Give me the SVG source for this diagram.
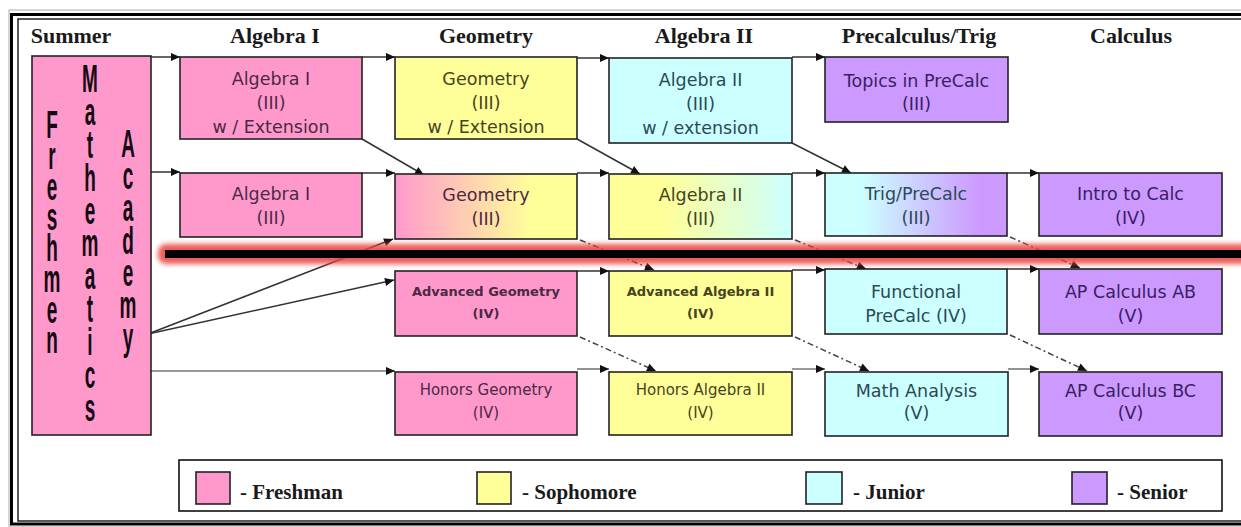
<svg xmlns="http://www.w3.org/2000/svg" width="1241" height="527" viewBox="0 0 1241 527">
<style>
.hdr{font-family:"Liberation Serif",serif;font-weight:bold;font-size:22px;fill:#1a1a1a;text-anchor:middle}
.leg{font-family:"Liberation Serif",serif;font-weight:bold;font-size:21px;fill:#1a1a1a}
.bx{stroke:#222;stroke-width:1.6}
.t{font-family:"DejaVu Sans",sans-serif;font-size:17.5px;text-anchor:middle}
.ts{font-family:"DejaVu Sans",sans-serif;font-size:15px;text-anchor:middle}
.tb{font-family:"DejaVu Sans",sans-serif;font-size:13px;font-weight:bold;text-anchor:middle}
.pk{fill:#ff99cc}.yl{fill:#ffff99}.cy{fill:#ccffff}.pu{fill:#cc99ff}
.tp{fill:#4a2a45}.ty{fill:#45441f}.tc{fill:#2a4a55}.tu{fill:#3a2060}
.c{fill:none;stroke:#333;stroke-width:1.5;marker-end:url(#ah)}
.cg{fill:none;stroke:#777;stroke-width:1.6;marker-end:url(#ah)}
.d{fill:none;stroke:#444;stroke-width:1.5;stroke-dasharray:6 3 2 3;marker-end:url(#ah)}
.fm{font-family:"Liberation Sans",sans-serif;font-weight:bold;font-size:38px;fill:#160a12;writing-mode:vertical-rl;text-orientation:upright}
</style>
<defs>
<marker id="ah" viewBox="0 0 10 10" refX="10" refY="5" markerWidth="11" markerHeight="9" markerUnits="userSpaceOnUse" orient="auto"><path d="M0,0.5 L10,5 L0,9.5 z" fill="#111"/></marker>
<linearGradient id="gPY" x1="0" y1="0" x2="1" y2="0"><stop offset="0" stop-color="#ff99cc"/><stop offset="0.75" stop-color="#ffff99"/><stop offset="1" stop-color="#ffff99"/></linearGradient>
<linearGradient id="gYC" x1="0" y1="0" x2="1" y2="0"><stop offset="0" stop-color="#ffff99"/><stop offset="0.3" stop-color="#ffff99"/><stop offset="1" stop-color="#ccffff"/></linearGradient>
<linearGradient id="gCP" x1="0" y1="0" x2="1" y2="0"><stop offset="0" stop-color="#ccffff"/><stop offset="0.2" stop-color="#ccffff"/><stop offset="0.85" stop-color="#cc99ff"/><stop offset="1" stop-color="#cc99ff"/></linearGradient>
<filter id="blur" x="-0.05" y="-1" width="1.1" height="3"><feGaussianBlur stdDeviation="2.5"/></filter>
</defs>
<rect width="1241" height="527" fill="#fff"/>
<g id="frame" fill="none">
<rect x="9" y="10" width="1260" height="517" stroke="#aaa" stroke-width="1"/>
<rect x="11.5" y="14.5" width="1260" height="509.5" stroke="#000" stroke-width="3"/>
<rect x="18" y="19" width="1260" height="502" stroke="#111" stroke-width="1.4"/>
</g>
<g id="headers">
<text class="hdr" x="71" y="43">Summer</text>
<text class="hdr" x="275" y="43">Algebra I</text>
<text class="hdr" x="486" y="43">Geometry</text>
<text class="hdr" x="704" y="43">Algebra II</text>
<text class="hdr" x="919" y="43">Precalculus/Trig</text>
<text class="hdr" x="1131" y="43">Calculus</text>
</g>
<g id="connectors">
<path class="c" d="M151,57 H180"/>
<path class="c" d="M362,57 H395"/>
<path class="c" d="M577,58 H609"/>
<path class="c" d="M792,57 H825"/>
<path class="c" d="M148,172 H180"/>
<path class="c" d="M362,173 H395"/>
<path class="c" d="M577,173 H609"/>
<path class="c" d="M792,173 H825"/>
<path class="c" d="M1007,173 H1039"/>
<path class="c" d="M362,139 L424,175"/>
<path class="c" d="M577,139 L640,174"/>
<path class="c" d="M792,143 L851,173"/>
<path class="c" d="M148,334 L393,239"/>
<path class="c" d="M148,334 L394,280"/>
<path class="cg" d="M148,371 H395"/>
<path class="d" d="M580,240 L654,270"/>
<path class="d" d="M795,240 L866,269"/>
<path class="d" d="M1010,237 L1080,268"/>
<path class="c" d="M577,271 H609"/>
<path class="c" d="M792,270 H825"/>
<path class="c" d="M1007,269 H1039"/>
<path class="d" d="M580,337 L656,371"/>
<path class="d" d="M795,337 L869,371"/>
<path class="d" d="M1010,335 L1087,371"/>
<path class="cg" d="M577,369 H609"/>
<path class="cg" d="M792,369 H825"/>
<path class="cg" d="M1008,369 H1039"/>
</g>
<g id="divider">
<rect x="158" y="244" width="1100" height="20" rx="8" fill="#e8403a" opacity="0.85" filter="url(#blur)"/>
<rect x="165" y="250" width="1090" height="8" fill="#000"/>
</g>
<g id="freshman-academy">
<rect class="bx pk" x="32" y="56" width="119" height="379"/>
<g transform="scale(0.5,1)">
<text class="fm" x="104" y="104" letter-spacing="-11">Freshmen</text>
<text class="fm" x="180" y="58" letter-spacing="-8.9">Mathematics</text>
<text class="fm" x="256" y="123" letter-spacing="-9.6">Academy</text>
</g>
</g>
<g id="alg1-ext"><rect class="bx pk" x="180" y="57" width="182" height="82"/><text class="t tp"><tspan x="271" y="85">Algebra I</tspan><tspan x="271" y="109">(III)</tspan><tspan x="271" y="133">w / Extension</tspan></text></g>
<g id="geo-ext"><rect class="bx yl" x="395" y="57" width="182" height="82"/><text class="t ty"><tspan x="486" y="85">Geometry</tspan><tspan x="486" y="109">(III)</tspan><tspan x="486" y="133">w / Extension</tspan></text></g>
<g id="alg2-ext"><rect class="bx cy" x="609" y="58" width="183" height="85"/><text class="t tc"><tspan x="700.5" y="86">Algebra II</tspan><tspan x="700.5" y="110">(III)</tspan><tspan x="700.5" y="134">w / extension</tspan></text></g>
<g id="topics"><rect class="bx pu" x="825" y="57" width="183" height="65"/><text class="t tu"><tspan x="916.5" y="87">Topics in PreCalc</tspan><tspan x="916.5" y="110">(III)</tspan></text></g>
<g id="alg1"><rect class="bx pk" x="180" y="173" width="182" height="64"/><text class="t tp"><tspan x="271" y="200">Algebra I</tspan><tspan x="271" y="224">(III)</tspan></text></g>
<g id="geo"><rect class="bx" fill="url(#gPY)" x="395" y="174" width="182" height="65"/><text class="t tp"><tspan x="486" y="201">Geometry</tspan><tspan x="486" y="225">(III)</tspan></text></g>
<g id="alg2"><rect class="bx" fill="url(#gYC)" x="609" y="174" width="183" height="65"/><text class="t ty"><tspan x="700.5" y="201">Algebra II</tspan><tspan x="700.5" y="225">(III)</tspan></text></g>
<g id="trig"><rect class="bx" fill="url(#gCP)" x="825" y="173" width="182" height="63"/><text class="t tc"><tspan x="916" y="200">Trig/PreCalc</tspan><tspan x="916" y="224">(III)</tspan></text></g>
<g id="intro-calc"><rect class="bx pu" x="1039" y="173" width="183" height="63"/><text class="t tu"><tspan x="1130.5" y="200">Intro to Calc</tspan><tspan x="1130.5" y="224">(IV)</tspan></text></g>
<g id="adv-geo"><rect class="bx pk" x="395" y="271" width="182" height="65"/><text class="tb tp"><tspan x="486" y="296">Advanced Geometry</tspan><tspan x="486" y="318">(IV)</tspan></text></g>
<g id="adv-alg2"><rect class="bx yl" x="609" y="271" width="183" height="65"/><text class="tb ty"><tspan x="700.5" y="296">Advanced Algebra II</tspan><tspan x="700.5" y="318">(IV)</tspan></text></g>
<g id="func-precalc"><rect class="bx cy" x="825" y="269" width="182" height="65"/><text class="t tc"><tspan x="916" y="298">Functional</tspan><tspan x="916" y="322">PreCalc (IV)</tspan></text></g>
<g id="ap-ab"><rect class="bx pu" x="1039" y="269" width="183" height="65"/><text class="t tu"><tspan x="1130.5" y="298">AP Calculus AB</tspan><tspan x="1130.5" y="322">(V)</tspan></text></g>
<g id="hon-geo"><rect class="bx pk" x="395" y="372" width="182" height="63"/><text class="ts tp"><tspan x="486" y="395">Honors Geometry</tspan><tspan x="486" y="418">(IV)</tspan></text></g>
<g id="hon-alg2"><rect class="bx yl" x="609" y="372" width="183" height="63"/><text class="ts ty"><tspan x="700.5" y="395">Honors Algebra II</tspan><tspan x="700.5" y="418">(IV)</tspan></text></g>
<g id="math-analysis"><rect class="bx cy" x="825" y="372" width="183" height="64"/><text class="t tc"><tspan x="916.5" y="397">Math Analysis</tspan><tspan x="916.5" y="419">(V)</tspan></text></g>
<g id="ap-bc"><rect class="bx pu" x="1039" y="372" width="183" height="64"/><text class="t tu"><tspan x="1130.5" y="397">AP Calculus BC</tspan><tspan x="1130.5" y="419">(V)</tspan></text></g>
<g id="legend">
<rect x="179" y="460" width="1043" height="51" fill="#fff" stroke="#111" stroke-width="1.6"/>
<rect class="bx pk" x="196" y="472" width="34" height="32"/><text class="leg" x="240" y="499">- Freshman</text>
<rect class="bx yl" x="477" y="472" width="34" height="32"/><text class="leg" x="522" y="499">- Sophomore</text>
<rect class="bx cy" x="806" y="472" width="36" height="32"/><text class="leg" x="853" y="499">- Junior</text>
<rect class="bx pu" x="1072" y="472" width="35" height="32"/><text class="leg" x="1117" y="499">- Senior</text>
</g>
</svg>
